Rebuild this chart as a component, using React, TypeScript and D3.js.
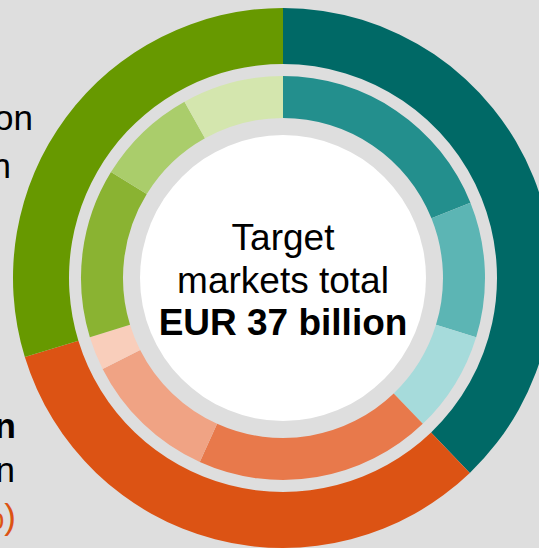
import React from "react";
import * as d3 from "d3";

const groups = ["Grid solutions", "Industrial automation", "Digitalisation"];
const groupValues = [14, 12, 11];
const groupColors = ["#006966", "#dc5314", "#679900"];

const subValues = [7, 4, 3, 7, 4, 1, 5, 3, 3];
const subColors = [
  "#238f8d", "#5cb5b4", "#a6dbdb",
  "#e8794b", "#f0a384", "#f9cebb",
  "#8ab332", "#aacd6b", "#d4e6ae",
];

const centerLines = ["Target", "markets total", "EUR 37 billion"];

const leftLabels = [
  { text: "Digitalisation", x: 33, y: 130, weight: "normal", color: "#000" },
  { text: "EUR 11 billion", x: 11, y: 178, weight: "normal", color: "#000" },
  { text: "Industrial automation", x: 16, y: 438, weight: "bold", color: "#000" },
  { text: "EUR 12 billion", x: 15, y: 482, weight: "normal", color: "#000" },
  { text: "(32%)", x: 16, y: 529, weight: "normal", color: "#dc5314" },
];

const W = 539;
const H = 548;
const cx = 283;
const cy = 278;

export default function App() {
  const pie = d3
    .pie<number>()
    .sort(null)
    .value((d) => d)
    .startAngle(0)
    .endAngle(2 * Math.PI);

  const outerArc = d3.arc<d3.PieArcDatum<number>>().innerRadius(214).outerRadius(270);
  const innerArc = d3.arc<d3.PieArcDatum<number>>().innerRadius(160).outerRadius(202);

  const outer = pie(groupValues);
  const inner = pie(subValues);

  const font = "'Liberation Sans', Arial, sans-serif";

  return (
    <svg
      width={W}
      height={H}
      style={{ position: "absolute", left: 0, top: 0, display: "block" }}
      fontFamily={font}
    >
      <rect x={0} y={0} width={W} height={H} fill="#dedede" />
      {leftLabels.map((l, i) => (
        <text
          key={i}
          x={l.x}
          y={l.y}
          textAnchor="end"
          fontSize={35}
          fontWeight={l.weight}
          fill={l.color}
        >
          {l.text}
        </text>
      ))}
      <g transform={`translate(${cx},${cy})`}>
        {outer.map((d, i) => (
          <path key={groups[i]} d={outerArc(d) || ""} fill={groupColors[i]} />
        ))}
        {inner.map((d, i) => (
          <path key={i} d={innerArc(d) || ""} fill={subColors[i]} />
        ))}
        <circle r={143} fill="#ffffff" />
        {centerLines.map((t, i) => (
          <text
            key={t}
            x={0}
            y={-28 + i * 42.5}
            textAnchor="middle"
            fontSize={37}
            fontWeight={i === 2 ? "bold" : "normal"}
            fill="#000"
          >
            {t}
          </text>
        ))}
      </g>
    </svg>
  );
}
